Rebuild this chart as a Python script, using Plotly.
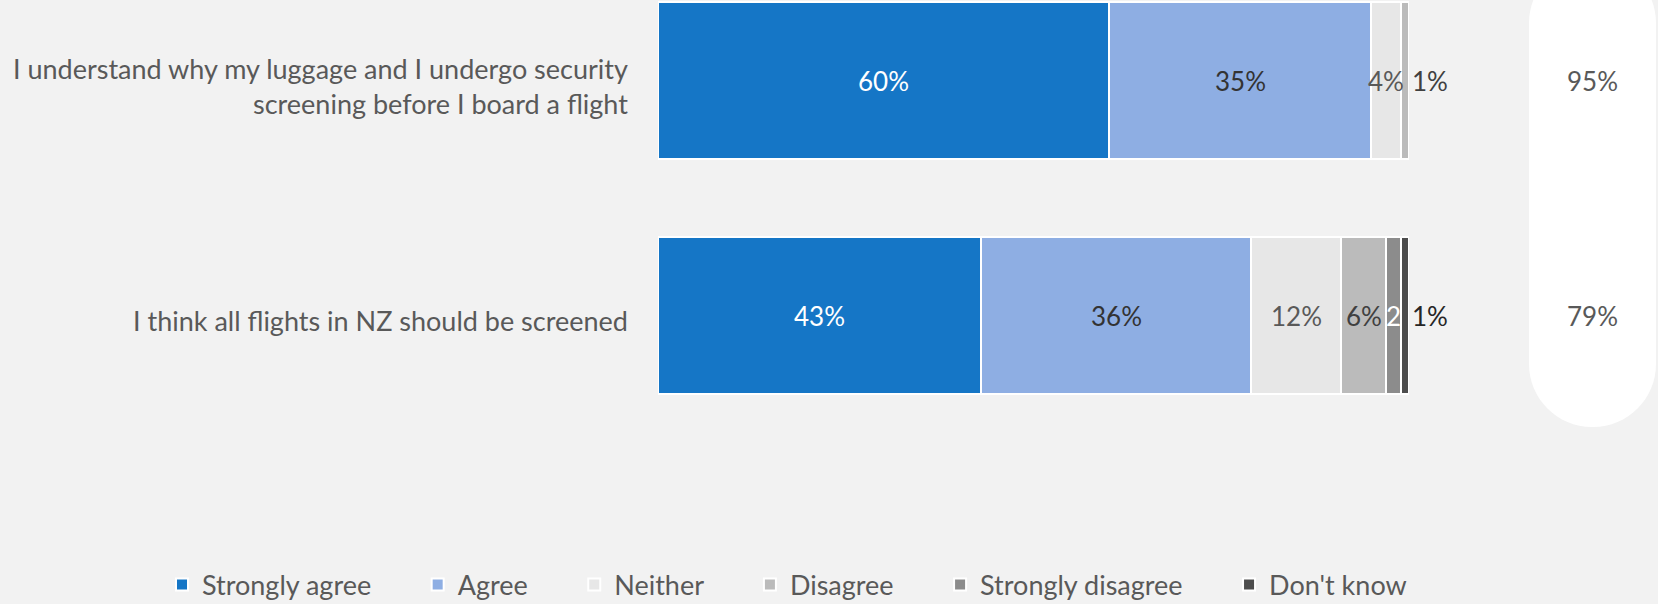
import plotly.graph_objects as go

# ---- data ----
categories = [
    "I understand why my luggage and I undergo security<br>screening before I board a flight",
    "I think all flights in NZ should be screened",
]
series_names = ["Strongly agree", "Agree", "Neither", "Disagree", "Strongly disagree", "Don't know"]
strongly_agree = [60, 43]
agree = [35, 36]
neither = [4, 12]
disagree = [1, 6]
strongly_disagree = [0, 2]
dont_know = [0, 1]
net_agree = ["95%", "79%"]

series_values = [strongly_agree, agree, neither, disagree, strongly_disagree, dont_know]
colors = ["#1576C6", "#8EAEE3", "#E7E7E7", "#BBBBBB", "#8C8C8C", "#4D4D4D"]
label_colors = ["#FFFFFF", "#333333", "#595959", "#404040", "#FFFFFF", "#262626"]

W, H = 1658, 604
FONT = "Lato"
GREY = "#595959"
NB = "\u00a0"

def px_x(p):
    return p / W

def px_y(p):
    return 1 - p / H

fig = go.Figure()
for name, vals, col in zip(series_names, series_values, colors):
    fig.add_trace(go.Bar(
        y=categories, x=vals, name=name + NB * 6, orientation="h",
        marker=dict(color=col, line=dict(color="white", width=2)),
        width=0.668, hoverinfo="skip",
    ))

annotations = []
for j, cat in enumerate(categories):
    # category label
    annotations.append(dict(x=px_x(630), y=cat, xref="paper", yref="y", text=cat,
                            showarrow=False, xanchor="right", align="right", yshift=-5,
                            font=dict(family=FONT, size=27, color=GREY)))
    cum = 0
    for i, vals in enumerate(series_values):
        v = vals[j]
        if v == 0:
            continue
        s, e = cum, cum + v
        cum = e
        if v == 1:
            annotations.append(dict(x=e, y=cat, xref="x", yref="y", text=f"{v}%",
                                    showarrow=False, xanchor="left", xshift=1,
                                    font=dict(family=FONT, size=26, color=label_colors[i])))
        else:
            txt = f"{v}%" if v > 2 else f"{v}"
            annotations.append(dict(x=(s + e) / 2, y=cat, xref="x", yref="y", text=txt,
                                    showarrow=False, xanchor="center",
                                    font=dict(family=FONT, size=26, color=label_colors[i])))
    annotations.append(dict(x=px_x(1592), y=cat, xref="paper", yref="y", text=net_agree[j],
                            showarrow=False, xanchor="center",
                            font=dict(family=FONT, size=26, color=GREY)))

# rounded pill behind the net-agree figures
x0, x1, y0, y1, r = 1529, 1656, -40, 427, 63
k = 0.5523 * r
pts = [
    ("M", [(x0 + r, y0)]),
    ("L", [(x1 - r, y0)]),
    ("C", [(x1 - r + k, y0), (x1, y0 + r - k), (x1, y0 + r)]),
    ("L", [(x1, y1 - r)]),
    ("C", [(x1, y1 - r + k), (x1 - r + k, y1), (x1 - r, y1)]),
    ("L", [(x0 + r, y1)]),
    ("C", [(x0 + r - k, y1), (x0, y1 - r + k), (x0, y1 - r)]),
    ("L", [(x0, y0 + r)]),
    ("C", [(x0, y0 + r - k), (x0 + r - k, y0), (x0 + r, y0)]),
]
path = ""
for cmd, ps in pts:
    path += cmd + " " + " ".join(f"{px_x(a):.5f},{px_y(b):.5f}" for a, b in ps) + " "
path += "Z"

top_c = 80.5
step = 235

fig.update_layout(
    width=W, height=H,
    margin=dict(l=0, r=0, t=0, b=0, autoexpand=False),
    paper_bgcolor="#F2F2F2", plot_bgcolor="rgba(0,0,0,0)",
    barmode="stack",
    font=dict(family=FONT, color=GREY),
    xaxis=dict(domain=[px_x(658), px_x(1409)], range=[0, 100], visible=False, fixedrange=True),
    yaxis=dict(domain=[0, 1], categoryorder="array", categoryarray=categories,
               range=[(H - top_c) / step, -top_c / step],
               showgrid=False, zeroline=False, showline=False, ticks="",
               showticklabels=False, fixedrange=True),
    shapes=[dict(type="path", path=path, xref="paper", yref="paper",
                 fillcolor="white", line=dict(width=0), layer="below")],
    annotations=annotations,
    showlegend=True,
    legend=dict(orientation="h", x=px_x(162), y=px_y(585), xanchor="left", yanchor="middle",
                xref="container", yref="container",
                font=dict(family=FONT, size=27, color=GREY), traceorder="normal",
                bgcolor="rgba(0,0,0,0)", itemwidth=30),
)

fig.write_html("out.html", config={"displayModeBar": False},
               post_script="document.body.style.margin='0';document.body.style.overflow='hidden';")
